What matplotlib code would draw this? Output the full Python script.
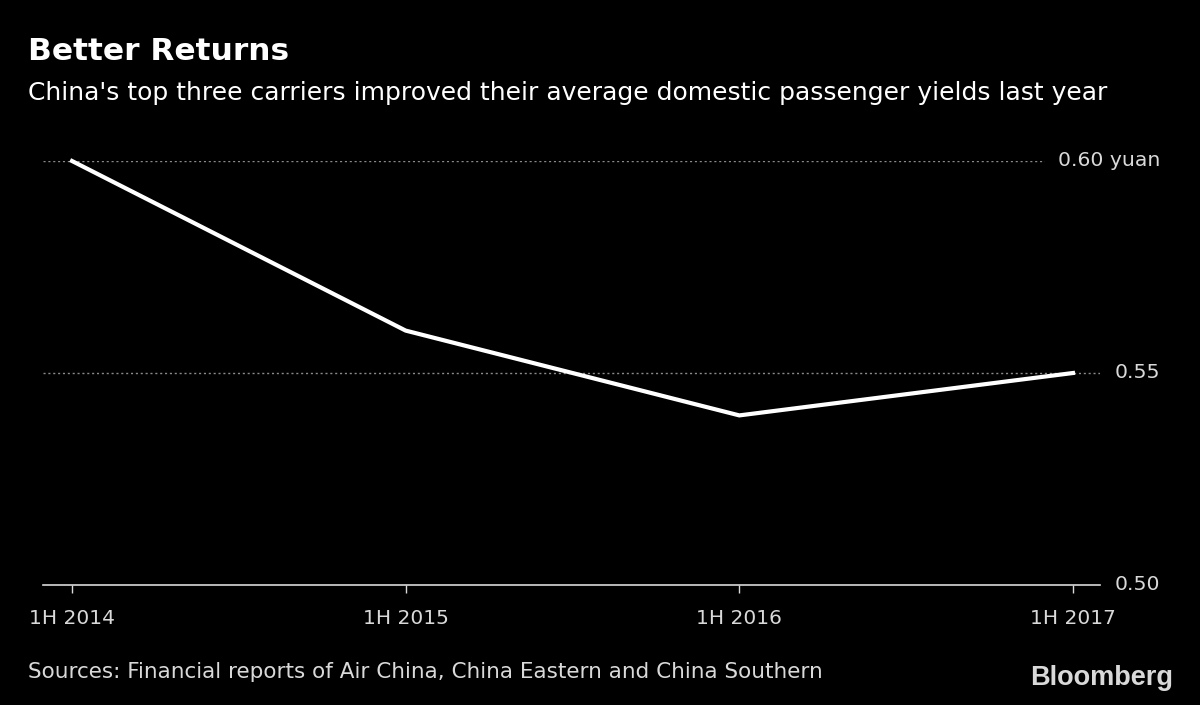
import matplotlib.pyplot as plt

# data
periods = ['1H 2014', '1H 2015', '1H 2016', '1H 2017']
yields = [0.600, 0.560, 0.540, 0.550]
y_ticks = [0.50, 0.55, 0.60]
y_labels = ['0.50', '0.55', '0.60 yuan']

plt.rcParams['font.family'] = ['DejaVu Sans']

bg = '#000000'
fg = '#ffffff'
lt = '#d9d9d9'

fig = plt.figure(figsize=(12, 7.05), dpi=100, facecolor=bg)
ax = fig.add_axes([43 / 1200, 120 / 705, 1057 / 1200, 424 / 705])
ax.set_facecolor(bg)

x = list(range(len(periods)))
ax.plot(x, yields, color=fg, lw=3, solid_joinstyle='miter', clip_on=False, zorder=3)

ax.set_xlim(-0.087, 3.081)
ax.set_ylim(0.50, 0.60)

for t in y_ticks[1:]:
    ax.axhline(t, color='#8a8a8a', lw=1, ls=(0, (1.5, 2)), zorder=1)

for s in ['top', 'left', 'right']:
    ax.spines[s].set_visible(False)
ax.spines['bottom'].set_color(lt)
ax.spines['bottom'].set_linewidth(1.2)

ax.set_xticks(x)
ax.set_xticklabels(periods)
ax.tick_params(axis='x', colors=lt, labelsize=14.5, length=6, width=1, pad=11)
ax.yaxis.set_visible(False)

for t, lab in zip(y_ticks, y_labels):
    ax.text(1160 / 1200, ax.transData.transform((0, t))[1] / 705, lab,
            transform=fig.transFigure, ha='right', va='center', color=lt,
            fontsize=14.7, zorder=5,
            bbox=dict(facecolor=bg, edgecolor='none', pad=9))

fig.text(28 / 1200, 1 - 51 / 705, 'Better Returns', color=fg, fontsize=22.5,
         fontweight='bold', va='center', ha='left')
fig.text(28 / 1200, 1 - 93 / 705,
         "China's top three carriers improved their average domestic passenger yields last year",
         color=fg, fontsize=18, va='center', ha='left')
fig.text(28 / 1200, 1 - 672 / 705,
         'Sources: Financial reports of Air China, China Eastern and China Southern',
         color=lt, fontsize=15.5, va='center', ha='left')
fig.text(1173 / 1200, 1 - 678 / 705, 'Bloomberg', color=lt, fontsize=19.5,
         fontweight='bold', va='center', ha='right', family=['Liberation Sans', 'DejaVu Sans'])

fig.savefig('out.png', dpi=100, facecolor=bg)
